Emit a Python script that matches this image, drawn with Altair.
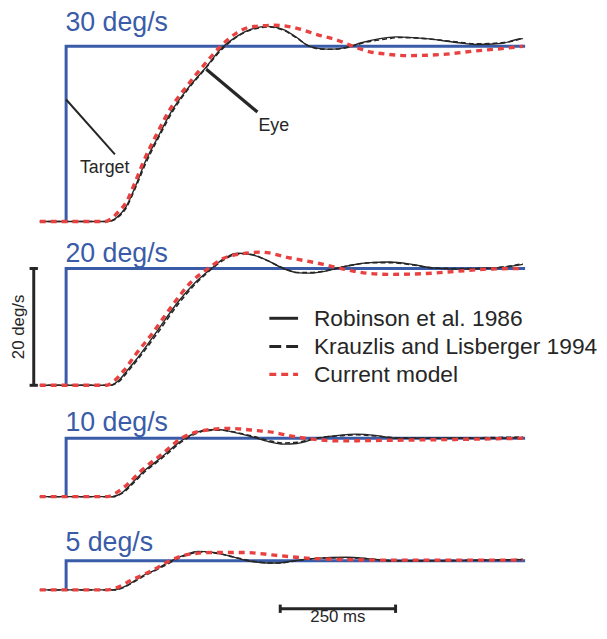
import altair as alt
import pandas as pd

# ---------------- data (t: ms from target onset, v: deg/s) ----------------
speeds = [30, 20, 10, 5]
panel_labels = ["30 deg/s", "20 deg/s", "10 deg/s", "5 deg/s"]

rob_t = {
    30: [-57, 90, 100, 110, 129, 150, 172, 200, 228, 260, 300, 340, 370, 400, 437, 470, 500, 522, 551, 579, 608, 640, 680, 715, 780, 851, 887, 945, 979, 990],
    20: [-57, 95, 105, 115, 129, 150, 193, 243, 280, 315, 340, 372, 400, 430, 471, 500, 529, 560, 586, 620, 660, 701, 750, 794, 850, 900, 950, 973, 990],
    10: [-57, 100, 110, 120, 136, 150, 172, 195, 215, 240, 258, 280, 300, 330, 360, 400, 440, 470, 500, 544, 590, 629, 670, 715, 800, 900, 990],
    5: [-57, 100, 115, 130, 150, 170, 193, 210, 229, 260, 286, 320, 360, 393, 420, 450, 470, 494, 540, 608, 660, 708, 800, 900, 990],
}
rob_v = {
    30: [0, 0, 0.2, 0.7, 2.4, 6.0, 10.3, 14.6, 18.8, 22.4, 26.1, 29.9, 31.7, 32.9, 33.4, 32.9, 31.5, 30.2, 29.6, 29.5, 29.8, 30.6, 31.3, 31.6, 31.3, 30.6, 30.3, 30.5, 31.2, 31.3],
    20: [0, 0, 0.3, 0.9, 2.2, 4.2, 8.8, 14.3, 17.6, 20.0, 21.6, 22.6, 22.4, 21.6, 20.0, 19.3, 19.2, 19.5, 20.0, 20.6, 21.0, 21.1, 20.7, 20.1, 19.9, 20.0, 20.2, 20.5, 20.7],
    10: [0, 0, 0.2, 0.6, 1.8, 2.9, 4.6, 6.0, 7.3, 9.0, 10.0, 10.9, 11.4, 11.5, 11.1, 10.3, 9.4, 9.0, 9.1, 10.0, 10.5, 10.7, 10.5, 10.0, 10.0, 10.0, 10.1],
    5: [0, 0, 0.2, 0.7, 1.65, 2.6, 3.4, 4.2, 5.0, 6.1, 6.6, 6.4, 5.7, 5.0, 4.7, 4.6, 4.7, 5.0, 5.4, 5.6, 5.3, 5.0, 5.0, 5.1, 5.2],
}

kra_t = {
    30: [-57, 92, 102, 112, 130, 150, 174, 200, 230, 260, 300, 342, 370, 400, 440, 470, 500, 525, 555, 585, 615, 650, 690, 720, 780, 850, 890, 945, 979, 990],
    20: [-57, 97, 107, 117, 130, 150, 195, 245, 282, 317, 342, 375, 402, 432, 473, 502, 531, 562, 588, 622, 662, 703, 752, 796, 850, 900, 950, 975, 990],
    10: [-57, 102, 112, 122, 138, 152, 174, 197, 217, 242, 260, 282, 302, 332, 362, 402, 440, 470, 500, 540, 590, 630, 670, 715, 800, 900, 990],
    5: [-57, 102, 117, 132, 152, 172, 195, 212, 231, 262, 290, 325, 365, 398, 425, 455, 475, 500, 545, 610, 660, 710, 800, 900, 990],
}
kra_v = {
    30: [0, 0, 0.2, 0.7, 2.3, 5.7, 10.2, 14.3, 18.7, 22.2, 26.0, 29.8, 31.6, 32.8, 33.3, 32.8, 31.4, 30.1, 29.5, 29.5, 29.9, 30.7, 31.2, 31.5, 31.3, 30.7, 30.4, 30.6, 31.1, 31.4],
    20: [0, 0, 0.3, 0.8, 2.0, 3.9, 8.6, 14.1, 17.5, 20.0, 21.5, 22.5, 22.4, 21.5, 20.0, 19.3, 19.3, 19.6, 20.1, 20.6, 21.0, 21.0, 20.6, 20.1, 20.0, 20.0, 20.3, 20.6, 20.8],
    10: [0, 0, 0.2, 0.6, 1.7, 2.8, 4.5, 5.9, 7.2, 8.9, 9.9, 10.8, 11.3, 11.4, 11.1, 10.4, 9.6, 9.2, 9.3, 10.0, 10.4, 10.6, 10.4, 10.1, 10.0, 10.1, 10.2],
    5: [0, 0, 0.2, 0.7, 1.6, 2.5, 3.4, 4.1, 4.9, 6.0, 6.5, 6.3, 5.6, 5.0, 4.7, 4.6, 4.7, 5.0, 5.4, 5.5, 5.3, 5.0, 5.0, 5.1, 5.2],
}

model_t = {
    30: [-57, 85, 100, 115, 129, 150, 168, 200, 222, 260, 300, 335, 370, 400, 451, 494, 544, 593, 615, 651, 700, 743, 816, 887, 945, 979, 990],
    20: [-57, 88, 100, 125, 150, 186, 236, 270, 308, 340, 380, 422, 486, 558, 601, 651, 701, 770, 844, 915, 990],
    10: [-57, 90, 105, 130, 165, 208, 250, 290, 350, 415, 450, 486, 529, 594, 650, 750, 850, 990],
    5: [-57, 90, 110, 140, 188, 225, 260, 315, 387, 458, 529, 600, 700, 850, 990],
}
model_v = {
    30: [0, 0, 0.6, 1.8, 3.1, 6.8, 10.3, 15.5, 18.8, 23.0, 26.9, 30.0, 32.3, 33.3, 33.6, 33.2, 32.0, 30.9, 30.2, 29.2, 28.6, 28.4, 28.6, 29.2, 29.6, 29.9, 30.0],
    20: [0, 0, 0.5, 2.5, 5.2, 8.8, 14.3, 17.6, 20.0, 21.7, 22.5, 22.8, 21.8, 20.7, 19.9, 19.2, 19.0, 19.1, 19.5, 19.9, 20.0],
    10: [0, 0, 0.5, 1.9, 4.6, 7.3, 10.0, 11.2, 11.7, 11.3, 11.0, 10.4, 9.9, 9.55, 9.6, 9.7, 9.8, 10.0],
    5: [0, 0, 0.4, 1.6, 3.4, 5.0, 6.0, 6.4, 6.4, 5.9, 5.4, 5.2, 5.1, 5.1, 5.1],
}

target_t = [0, 0, 995]
scale_bar_ms = 250
scale_bar_dps = 20
legend_names = ["Robinson et al. 1986", "Krauzlis and Lisberger 1994", "Current model"]

# ---------------- layout ----------------
W, H = 597, 618
PX_MS = 0.466          # px per ms
PX_DPS = 5.9           # px per deg/s
T0_PAGE_X = 66.7       # page x of target onset
BOTTOM_PAGE_Y = 8 + H


def t_of(px):
    return (px - T0_PAGE_X) / PX_MS


def u_of(py):
    return (BOTTOM_PAGE_Y - py) / PX_DPS


baseline_page_y = {30: 220.5, 20: 386.0, 10: 498.5, 5: 592.7}
base_u = {s: u_of(y) for s, y in baseline_page_y.items()}

BLUE = "#3a5ca8"
RED = "#e8413f"
BLACK = "#262626"
FONT = "Liberation Sans"

rows = []
for name, tt, vv in [("rob", rob_t, rob_v), ("kra", kra_t, kra_v), ("model", model_t, model_v)]:
    for s in speeds:
        for i, (t, v) in enumerate(zip(tt[s], vv[s])):
            rows.append({"series": name, "panel": s, "t": t, "u": v + base_u[s], "o": i})
for s in speeds:
    for i, (t, v) in enumerate(zip(target_t, [0, s, s])):
        rows.append({"series": "target", "panel": s, "t": t, "u": v + base_u[s], "o": i})
df = pd.DataFrame(rows)

xs = alt.Scale(domain=[t_of(8), t_of(8 + W)], nice=False, zero=False)
ys = alt.Scale(domain=[0, u_of(8)], nice=False, zero=False)


def X(f="t"):
    return alt.X(f"{f}:Q", scale=xs, axis=None)


def Y(f="u"):
    return alt.Y(f"{f}:Q", scale=ys, axis=None)


base = alt.Chart(df)
target = base.transform_filter("datum.series == 'target'").mark_line(
    color=BLUE, strokeWidth=3, strokeCap="butt", strokeJoin="miter"
).encode(x=X(), y=Y(), detail="panel:N", order="o:Q")
rob = base.transform_filter("datum.series == 'rob'").mark_line(
    color=BLACK, strokeWidth=1.4, interpolate="monotone"
).encode(x=X(), y=Y(), detail="panel:N", order="o:Q")
kra = base.transform_filter("datum.series == 'kra'").mark_line(
    color=BLACK, strokeWidth=1.6, strokeDash=[5, 3], interpolate="monotone"
).encode(x=X(), y=Y(), detail="panel:N", order="o:Q")
model = base.transform_filter("datum.series == 'model'").mark_line(
    color=RED, strokeWidth=3.4, strokeDash=[6, 5], interpolate="monotone"
).encode(x=X(), y=Y(), detail="panel:N", order="o:Q")

# panel labels
label_page_y = [28, 261, 432.3, 553.3]
lab_df = pd.DataFrame({"t": [t_of(66)] * 4, "u": [u_of(y) for y in label_page_y], "txt": panel_labels})
labels = alt.Chart(lab_df).mark_text(
    align="left", baseline="alphabetic", font=FONT, fontSize=27, color=BLUE
).encode(x=X(), y=Y(), text="txt:N")

# pointer lines
ptr_df = pd.DataFrame({
    "t": [t_of(66.7), t_of(208.3)], "t2": [t_of(116), t_of(260)],
    "u": [u_of(97.3), u_of(66.7)], "u2": [u_of(152.7), u_of(110)],
})
ptr1 = alt.Chart(ptr_df.iloc[[0]]).mark_rule(color=BLACK, strokeWidth=2.0).encode(
    x=X(), x2="t2:Q", y=Y(), y2="u2:Q")
ptr2 = alt.Chart(ptr_df.iloc[[1]]).mark_rule(color=BLACK, strokeWidth=3.2).encode(
    x=X(), x2="t2:Q", y=Y(), y2="u2:Q")
ann_df = pd.DataFrame({"t": [t_of(80.7), t_of(261)], "u": [u_of(171.7), u_of(129.6)], "txt": ["Target", "Eye"]})
ann = alt.Chart(ann_df).mark_text(
    align="left", baseline="alphabetic", font=FONT, fontSize=18, color=BLACK
).encode(x=X(), y=Y(), text="txt:N")

# legend
leg_y = [318.3, 346.7, 375.0]
leg_df = pd.DataFrame({"t": [t_of(272)] * 3, "t2": [t_of(301)] * 3, "u": [u_of(y) for y in leg_y],
                       "tt": [t_of(317)] * 3, "ut": [u_of(y + 8.0) for y in leg_y], "txt": legend_names})
leg1 = alt.Chart(leg_df.iloc[[0]]).mark_rule(color=BLACK, strokeWidth=3).encode(x=X(), x2="t2:Q", y=Y())
leg2 = alt.Chart(leg_df.iloc[[1]]).mark_rule(color=BLACK, strokeWidth=3, strokeDash=[12, 5]).encode(x=X(), x2="t2:Q", y=Y())
leg3 = alt.Chart(leg_df.iloc[[2]]).mark_rule(color=RED, strokeWidth=3.4, strokeDash=[7, 5]).encode(x=X(), x2="t2:Q", y=Y())
leg_txt = alt.Chart(leg_df).mark_text(
    align="left", baseline="alphabetic", font=FONT, fontSize=23, color=BLACK
).encode(x=X("tt"), y=Y("ut"), text="txt:N")

# scale bars
hb_t = t_of(283)
hb_u = u_of(611.7)
vb_t = t_of(34)
vb_u = base_u[20]
cap_dt = 4.2 / PX_MS
cap_du = 4.2 / PX_DPS
bars_df = pd.DataFrame({
    "t": [hb_t, vb_t, hb_t, hb_t + scale_bar_ms, vb_t - cap_dt, vb_t - cap_dt],
    "t2": [hb_t + scale_bar_ms, vb_t, hb_t, hb_t + scale_bar_ms, vb_t + cap_dt, vb_t + cap_dt],
    "u": [hb_u, vb_u, hb_u - cap_du, hb_u - cap_du, vb_u, vb_u + scale_bar_dps],
    "u2": [hb_u, vb_u + scale_bar_dps, hb_u + cap_du, hb_u + cap_du, vb_u, vb_u + scale_bar_dps],
})
bars = alt.Chart(bars_df).mark_rule(color=BLACK, strokeWidth=3).encode(
    x=X(), x2="t2:Q", y=Y(), y2="u2:Q")
bar_txt_df = pd.DataFrame({"t": [hb_t + scale_bar_ms / 2], "u": [u_of(625)], "txt": [f"{scale_bar_ms} ms"]})
bar_txt = alt.Chart(bar_txt_df).mark_text(
    align="center", baseline="alphabetic", font=FONT, fontSize=17, color=BLACK
).encode(x=X(), y=Y(), text="txt:N")
vbar_txt_df = pd.DataFrame({"t": [t_of(19.5)], "u": [vb_u + scale_bar_dps / 2], "txt": [f"{scale_bar_dps} deg/s"]})
vbar_txt = alt.Chart(vbar_txt_df).mark_text(
    align="center", baseline="middle", font=FONT, fontSize=17, color=BLACK, angle=270
).encode(x=X(), y=Y(), text="txt:N")

chart = alt.layer(
    target, rob, kra, model, labels, ptr1, ptr2, ann, leg1, leg2, leg3, leg_txt, bars, bar_txt, vbar_txt
).properties(
    width=W, height=H, padding=0, autosize=alt.AutoSizeParams(type="none"), background="white"
).configure_view(stroke=None)

chart.save("out.html", embed_options={"renderer": "svg", "actions": False})
